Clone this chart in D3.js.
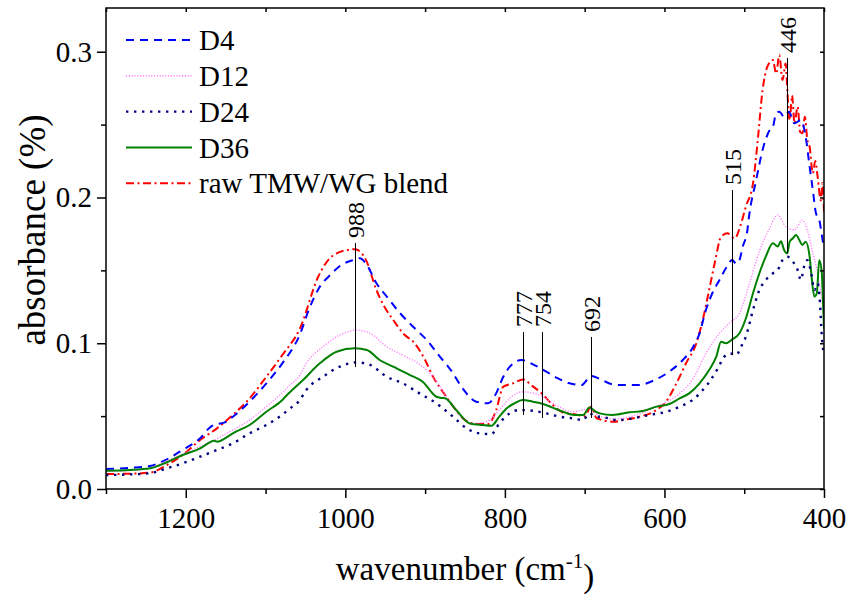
<!DOCTYPE html>
<html>
<head>
<meta charset="utf-8">
<script src="https://cdn.jsdelivr.net/npm/d3@7"></script>
<style>
  html, body { margin: 0; padding: 0; background: #fff; }
  svg text { font-family: "Liberation Serif", "Times New Roman", serif; fill: #000; }
</style>
</head>
<body>
<svg id="chart" width="848" height="596"></svg>
<script>
// FTIR absorbance spectra: [wavenumber (cm-1), absorbance]
const d4 = [[1300,0.0137],[1270,0.0145],[1245,0.0158],[1225,0.020],[1204,0.0268],[1182,0.0348],[1168,0.043],[1161,0.0445],[1152,0.0455],[1141,0.0496],[1120,0.0599],[1099,0.0725],[1079,0.0862],[1057,0.106],[1045,0.124],[1032,0.1388],[1019,0.1468],[1005,0.1537],[990,0.1571],[982,0.1583],[973,0.1537],[961,0.1411],[948,0.132],[932,0.121],[915,0.1113],[898,0.1022],[882,0.0912],[867,0.081],[853,0.069],[836,0.0599],[821,0.0588],[811,0.0656],[802,0.077],[792,0.085],[779,0.0885],[763,0.085],[748,0.0805],[734,0.076],[719,0.0725],[704,0.0713],[692,0.0775],[681,0.0755],[667,0.072],[654,0.0713],[633,0.0713],[612,0.0748],[594,0.0805],[577,0.0885],[565,0.0965],[556,0.1068],[548,0.1228],[540,0.1343],[531,0.1434],[523,0.1514],[515,0.1571],[510,0.1545],[506,0.157],[502,0.166],[496,0.1777],[494,0.1868],[485,0.212],[477,0.2326],[468,0.2463],[464,0.2486],[460,0.2577],[456,0.2589],[450,0.2554],[444,0.2589],[437,0.2509],[429,0.2531],[423,0.2417],[418,0.2211],[414,0.2051],[410,0.189],[406,0.185],[403,0.175],[400,0.165]];

const d12 = [[1300,0.012],[1270,0.0128],[1245,0.0145],[1225,0.019],[1204,0.024],[1182,0.029],[1161,0.0345],[1141,0.0405],[1120,0.0473],[1099,0.0565],[1079,0.066],[1070,0.071],[1057,0.078],[1049,0.0862],[1028,0.0976],[1007,0.1056],[986,0.109],[969,0.1068],[948,0.0976],[928,0.0919],[907,0.0855],[890,0.077],[873,0.0633],[857,0.0508],[842,0.045],[823,0.0462],[807,0.0542],[794,0.0622],[778,0.0667],[757,0.0645],[736,0.0576],[715,0.053],[694,0.055],[681,0.050],[660,0.048],[640,0.050],[610,0.0565],[581,0.0656],[565,0.0748],[548,0.093],[531,0.1068],[519,0.1137],[506,0.1205],[494,0.140],[481,0.163],[469,0.178],[458,0.188],[448,0.180],[437,0.1777],[427,0.1845],[421,0.1777],[414,0.162],[408,0.148],[404,0.135],[400,0.12]];

const d24 = [[1300,0.0096],[1270,0.0100],[1245,0.0108],[1225,0.014],[1204,0.0176],[1182,0.0222],[1161,0.0268],[1141,0.0313],[1120,0.0382],[1099,0.0439],[1079,0.051],[1070,0.055],[1057,0.061],[1049,0.0679],[1028,0.077],[1007,0.0839],[986,0.0869],[969,0.0851],[948,0.077],[928,0.0725],[907,0.0656],[886,0.0588],[865,0.0496],[848,0.0416],[832,0.0382],[817,0.0377],[807,0.045],[794,0.0519],[782,0.0542],[765,0.0537],[748,0.0519],[731,0.0496],[715,0.0485],[702,0.0473],[694,0.0519],[686,0.0496],[681,0.0496],[660,0.0473],[640,0.0485],[619,0.0508],[598,0.053],[581,0.0565],[565,0.061],[552,0.0679],[542,0.0748],[533,0.0828],[525,0.0908],[517,0.093],[510,0.0919],[504,0.0976],[498,0.1045],[489,0.1228],[481,0.1365],[473,0.1434],[464,0.148],[458,0.1502],[452,0.157],[446,0.1594],[439,0.156],[433,0.1502],[429,0.1434],[425,0.1525],[421,0.157],[416,0.148],[412,0.1365],[408,0.141],[405,0.1274],[403,0.1068],[400,0.092]];

const d36 = [[1300,0.0125],[1270,0.013],[1245,0.0142],[1225,0.018],[1204,0.0233],[1182,0.0279],[1170,0.032],[1165,0.0331],[1160,0.0325],[1150,0.035],[1141,0.0382],[1120,0.0439],[1099,0.053],[1079,0.0611],[1074,0.064],[1053,0.0748],[1032,0.0862],[1011,0.0942],[988,0.0965],[973,0.0954],[957,0.0885],[940,0.0839],[919,0.0782],[903,0.0736],[886,0.0633],[880,0.0625],[875,0.0622],[861,0.0542],[844,0.045],[828,0.0439],[817,0.0434],[807,0.0496],[798,0.0553],[788,0.0588],[778,0.0611],[765,0.0599],[752,0.0583],[740,0.0558],[727,0.053],[713,0.0508],[702,0.0508],[694,0.056],[686,0.053],[681,0.0519],[665,0.0508],[644,0.0526],[627,0.0535],[610,0.0565],[594,0.0583],[581,0.0622],[569,0.0656],[556,0.0725],[544,0.0816],[535,0.0908],[529,0.101],[523,0.100],[515,0.1027],[506,0.1068],[498,0.117],[489,0.1343],[481,0.148],[473,0.1594],[464,0.1686],[458,0.1663],[454,0.170],[450,0.164],[446,0.1617],[443,0.1697],[439,0.172],[435,0.1743],[431,0.1708],[427,0.1674],[423,0.1697],[418,0.1594],[416,0.148],[412,0.132],[409,0.1343],[406,0.157],[403,0.150],[401,0.125],[400,0.11]];

const rawBlend = [[1300,0.0103],[1270,0.0105],[1245,0.0112],[1225,0.016],[1204,0.0233],[1182,0.0336],[1161,0.0416],[1141,0.0508],[1120,0.0622],[1099,0.077],[1079,0.0919],[1057,0.110],[1034,0.1456],[1026,0.1537],[1011,0.1617],[988,0.1645],[974,0.157],[961,0.1365],[951,0.125],[940,0.116],[928,0.107],[913,0.0999],[900,0.0885],[890,0.077],[875,0.0645],[863,0.0553],[850,0.0473],[836,0.0446],[821,0.0446],[811,0.054],[802,0.0702],[790,0.0725],[777,0.0752],[767,0.0713],[754,0.0656],[742,0.0588],[729,0.053],[710,0.051],[700,0.050],[692,0.0565],[685,0.0485],[663,0.0462],[652,0.0473],[631,0.0496],[610,0.0542],[598,0.0599],[585,0.0725],[573,0.0862],[560,0.100],[552,0.116],[544,0.1365],[537,0.155],[529,0.173],[521,0.1754],[512,0.172],[504,0.182],[498,0.1937],[489,0.2097],[483,0.2394],[477,0.2737],[471,0.2897],[464,0.2943],[460,0.285],[456,0.2977],[452,0.2806],[448,0.292],[446,0.2737],[443,0.253],[440,0.27],[437,0.2509],[433,0.2623],[430,0.245],[427,0.244],[424,0.2554],[421,0.24],[418,0.2348],[414,0.2166],[411,0.225],[408,0.2143],[404,0.198],[402,0.21],[400,0.19]];

const seriesNames = ["D4", "D12", "D24", "D36", "raw TMW/WG blend"];
const seriesData = [d4, d12, d24, d36, rawBlend];

// marked bands: wavenumber and the absorbance span of each marker line
const peakWavenumbers = [988, 777, 754, 692, 515, 446];
const peakLineTop = [0.1688, 0.1077, 0.1077, 0.1043, 0.2051, 0.2957];
const peakLineBottom = [0.0837, 0.0508, 0.0487, 0.0487, 0.0919, 0.1619];

const xMajorTicks = [1200, 1000, 800, 600, 400];
const xMinorTicks = [1300, 1100, 900, 700, 500];
const yMajorTicks = [0.0, 0.1, 0.2, 0.3];
const yMinorTicks = [0.05, 0.15, 0.25];

// line styles
const styles = [
  { color: "#0000ff", width: 2,   dash: "8,6" },
  { color: "#ff80ff", width: 1.4, dash: "1.2,1.6" },
  { color: "#000080", width: 2.4, dash: "2.4,5.6" },
  { color: "#008000", width: 2,   dash: null },
  { color: "#ff0000", width: 2,   dash: "8,3.5,2,3.5" }
];

const margin = { left: 106, top: 8, right: 24, bottom: 107 };
const W = 848, H = 596;
const iw = W - margin.left - margin.right;
const ih = H - margin.top - margin.bottom;

const svg = d3.select("#chart");
const g = svg.append("g").attr("transform", `translate(${margin.left},${margin.top})`);

const x = d3.scaleLinear().domain([1300, 400]).range([0, iw]);
const y = d3.scaleLinear().domain([0, 0.33]).range([ih, 0]);

svg.append("defs").append("clipPath").attr("id", "plotclip")
  .append("rect").attr("x", 0).attr("y", 0).attr("width", iw).attr("height", ih);

const line = d3.line()
  .x(d => x(d[0]))
  .y(d => y(d[1]))
  .curve(d3.curveMonotoneX);

// spectra (raw blend drawn first, D24 last)
const drawOrder = [4, 0, 1, 3, 2];
const plot = g.append("g").attr("clip-path", "url(#plotclip)");
drawOrder.forEach(i => {
  plot.append("path")
    .datum(seriesData[i])
    .attr("fill", "none")
    .attr("stroke", styles[i].color)
    .attr("stroke-width", styles[i].width)
    .attr("stroke-dasharray", styles[i].dash)
    .attr("stroke-linejoin", "round")
    .attr("d", line);
});

// band markers
const marks = g.append("g");
peakWavenumbers.forEach((wn, i) => {
  const px = Math.round(x(wn)) + 0.5;
  marks.append("line")
    .attr("x1", px).attr("x2", px)
    .attr("y1", y(peakLineTop[i])).attr("y2", y(peakLineBottom[i]))
    .attr("stroke", "#000").attr("stroke-width", 1);
  marks.append("text")
    .attr("transform", `translate(${px},${y(peakLineTop[i]) - 5}) rotate(-90)`)
    .attr("dy", "0.35em")
    .attr("text-anchor", "start")
    .style("font-size", "24px")
    .text(wn);
});

// axes
function styleAxis(sel) {
  sel.select(".domain").remove();
  sel.selectAll(".tick line").attr("stroke", "#000").attr("stroke-width", 1.5);
  sel.selectAll(".tick text").style("font-size", "29px").attr("fill", "#000");
}

g.append("g").attr("transform", `translate(0,${ih})`)
  .call(d3.axisBottom(x).tickValues(xMajorTicks).tickSize(9).tickPadding(9).tickFormat(d3.format("d")))
  .call(styleAxis);
g.append("g").attr("transform", `translate(0,${ih})`)
  .call(d3.axisBottom(x).tickValues(xMinorTicks).tickSize(5).tickFormat(""))
  .call(styleAxis);
g.append("g")
  .call(d3.axisTop(x).tickValues(xMajorTicks.concat(xMinorTicks)).tickSize(-4).tickFormat(""))
  .call(styleAxis);

g.append("g")
  .call(d3.axisLeft(y).tickValues(yMajorTicks).tickSize(9).tickPadding(5).tickFormat(d3.format(".1f")))
  .call(styleAxis);
g.append("g")
  .call(d3.axisLeft(y).tickValues(yMinorTicks).tickSize(5).tickFormat(""))
  .call(styleAxis);
g.append("g").attr("transform", `translate(${iw},0)`)
  .call(d3.axisRight(y).tickValues(yMajorTicks.concat(yMinorTicks)).tickSize(-4).tickFormat(""))
  .call(styleAxis);

// frame
g.append("rect")
  .attr("x", 0).attr("y", 0).attr("width", iw).attr("height", ih)
  .attr("fill", "none").attr("stroke", "#000").attr("stroke-width", 1.5);

// axis titles
const xt = svg.append("text")
  .attr("x", margin.left + iw / 2)
  .attr("y", 580)
  .attr("text-anchor", "middle")
  .style("font-size", "33px");
xt.append("tspan").text("wavenumber (cm");
xt.append("tspan").attr("dy", "-0.55em").style("font-size", "21px").text("-1");
xt.append("tspan").attr("dy", "0.55em").text(")");

svg.append("text")
  .attr("transform", `translate(45,230) rotate(-90)`)
  .attr("text-anchor", "middle")
  .style("font-size", "37px")
  .text("absorbance (%)");

// legend
const legend = svg.append("g").attr("transform", "translate(126,40)");
seriesNames.forEach((name, i) => {
  const row = legend.append("g").attr("transform", `translate(0,${i * 35.8})`);
  row.append("line")
    .attr("x1", 0).attr("x2", 66).attr("y1", 0).attr("y2", 0)
    .attr("stroke", styles[i].color)
    .attr("stroke-width", styles[i].width)
    .attr("stroke-dasharray", styles[i].dash);
  row.append("text")
    .attr("x", 73).attr("dy", "0.35em")
    .style("font-size", "29px")
    .text(name);
});
</script>
</body>
</html>
